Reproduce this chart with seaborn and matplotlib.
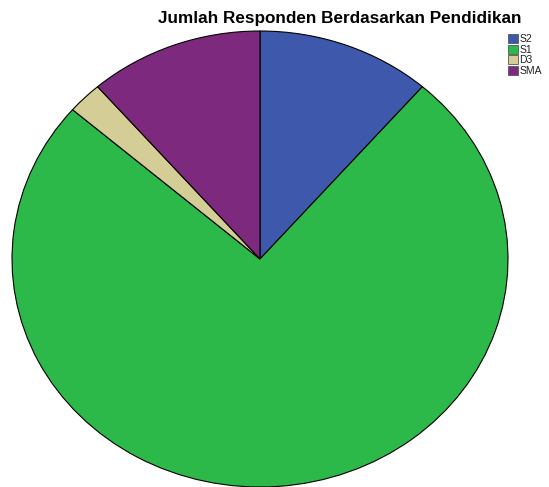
import matplotlib
matplotlib.use("Agg")
import matplotlib.pyplot as plt
import seaborn as sns
from matplotlib.patches import Patch

sns.set_style("white")
plt.rcParams['font.family'] = ['Liberation Sans', 'DejaVu Sans']

# Data (jumlah responden)
pendidikan = ['S2', 'S1', 'D3', 'SMA']
jumlah = [5, 33, 1, 5]
warna = ['#3E58AC', '#2DB84A', '#D4CE96', '#7D2A7E']

fig = plt.figure(figsize=(5.49, 4.87), dpi=100)
ax = fig.add_axes([12 / 549, 0.0, 496 / 549, 456 / 487])

ax.pie(jumlah, colors=warna, startangle=90, counterclock=False,
       wedgeprops={'edgecolor': 'black', 'linewidth': 0.8})
ax.set_aspect('auto')
ax.set_xlim(-1.0, 1.0)
ax.set_ylim(-1.0, 1.0)
ax.axis('off')

fig.text(340 / 549, 1 - 19 / 487, 'Jumlah Responden Berdasarkan Pendidikan',
         ha='center', va='center', fontsize=12.3, fontweight='bold', color='black')

handles = [Patch(facecolor=c, edgecolor='#555555', linewidth=0.6) for c in warna]
fig.legend(handles, pendidikan, loc='upper left', bbox_to_anchor=(508 / 549, 1 - 34 / 487),
           frameon=False, fontsize=7.5, handlelength=0.95, handleheight=0.95,
           handletextpad=0.15, labelspacing=0.05, borderpad=0.0, borderaxespad=0,
           labelcolor='#222222')

fig.savefig('out.png', dpi=100)
